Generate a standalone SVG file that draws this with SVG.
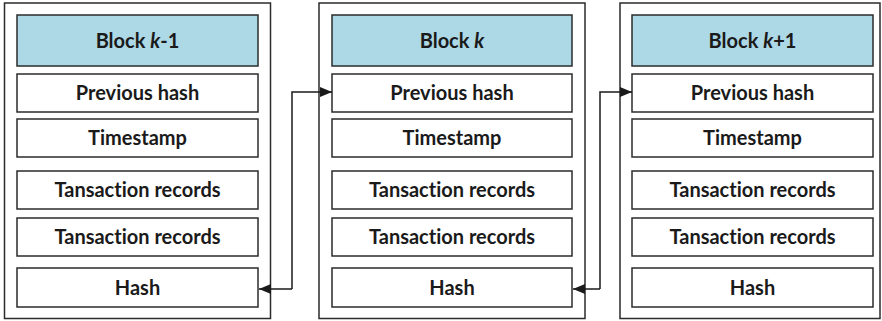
<svg xmlns="http://www.w3.org/2000/svg" width="882" height="321" viewBox="0 0 882 321">
  <style>
    .outer { fill: #ffffff; stroke: #2b2b2b; stroke-width: 1.5; }
    .head { fill: #add8e6; stroke: #2b2b2b; stroke-width: 1.5; }
    .field { fill: #ffffff; stroke: #2b2b2b; stroke-width: 1.5; }
    text { font-family: "Lato", "Liberation Sans", sans-serif; font-weight: bold; font-size: 20px; fill: #1a1a1a; text-anchor: middle; dominant-baseline: central; font-variant-ligatures: none; }
    .link { fill: none; stroke: #1a1a1a; stroke-width: 1.5; }
  </style>
  <defs>
    <marker id="arrow" viewBox="0 0 12 10" refX="12" refY="5" markerWidth="12" markerHeight="10" markerUnits="userSpaceOnUse" orient="auto">
      <path d="M0,0 L12,5 L0,10 Z" fill="#1a1a1a"/>
    </marker>
  </defs>
  <rect width="882" height="321" fill="#ffffff"/>

  <!-- Block k-1 -->
  <g id="block-k-minus-1">
    <rect class="outer" x="4.5" y="3" width="266" height="315.5"/>
    <rect class="head" x="17" y="15" width="241" height="51"/>
    <text x="137.5" y="40">Block <tspan font-style="italic">k</tspan>-1</text>
    <rect class="field" x="17" y="74" width="241" height="38"/>
    <text x="137.5" y="92">Previous hash</text>
    <rect class="field" x="17" y="119" width="241" height="38"/>
    <text x="137.5" y="137">Timestamp</text>
    <rect class="field" x="17" y="171" width="241" height="38"/>
    <text x="137.5" y="189">Tansaction records</text>
    <rect class="field" x="17" y="218" width="241" height="38"/>
    <text x="137.5" y="236">Tansaction records</text>
    <rect class="field" x="17" y="268" width="241" height="39"/>
    <text x="137.5" y="287">Hash</text>
  </g>

  <!-- Block k -->
  <g id="block-k">
    <rect class="outer" x="319" y="3" width="266" height="315.5"/>
    <rect class="head" x="332" y="15" width="240" height="51"/>
    <text x="452" y="40">Block <tspan font-style="italic">k</tspan></text>
    <rect class="field" x="332" y="74" width="240" height="38"/>
    <text x="452" y="92">Previous hash</text>
    <rect class="field" x="332" y="119" width="240" height="38"/>
    <text x="452" y="137">Timestamp</text>
    <rect class="field" x="332" y="171" width="240" height="38"/>
    <text x="452" y="189">Tansaction records</text>
    <rect class="field" x="332" y="218" width="240" height="38"/>
    <text x="452" y="236">Tansaction records</text>
    <rect class="field" x="332" y="268" width="240" height="39"/>
    <text x="452" y="287">Hash</text>
  </g>

  <!-- Block k+1 -->
  <g id="block-k-plus-1">
    <rect class="outer" x="620" y="3" width="260" height="315.5"/>
    <rect class="head" x="632" y="15" width="241" height="51"/>
    <text x="752.5" y="40">Block <tspan font-style="italic">k</tspan>+1</text>
    <rect class="field" x="632" y="74" width="241" height="38"/>
    <text x="752.5" y="92">Previous hash</text>
    <rect class="field" x="632" y="119" width="241" height="38"/>
    <text x="752.5" y="137">Timestamp</text>
    <rect class="field" x="632" y="171" width="241" height="38"/>
    <text x="752.5" y="189">Tansaction records</text>
    <rect class="field" x="632" y="218" width="241" height="38"/>
    <text x="752.5" y="236">Tansaction records</text>
    <rect class="field" x="632" y="268" width="241" height="39"/>
    <text x="752.5" y="287">Hash</text>
  </g>

  <!-- hash links between consecutive blocks -->
  <g id="connectors">
    <path class="link" d="M292,289 L292,92 L332,92" marker-end="url(#arrow)"/>
    <path class="link" d="M292,289 L259,289" marker-end="url(#arrow)"/>
    <path class="link" d="M600,289 L600,92 L632,92" marker-end="url(#arrow)"/>
    <path class="link" d="M600,289 L573,289" marker-end="url(#arrow)"/>
  </g>
</svg>
